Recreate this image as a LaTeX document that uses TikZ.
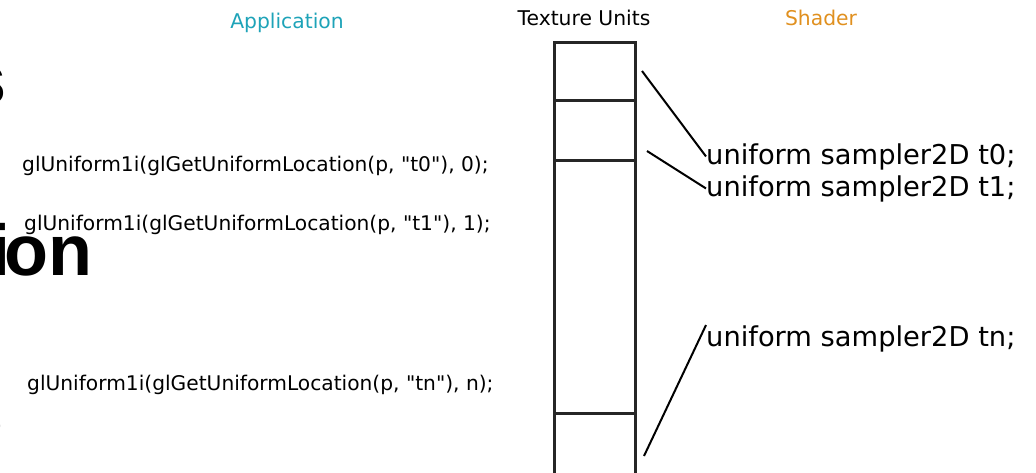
\documentclass[tikz,border=0pt]{standalone}
\usepackage{fontspec}
\setmainfont{DejaVu Sans}[Ligatures=TeXOff]
\newfontfamily\bigbold{Liberation Sans}
\definecolor{appcol}{HTML}{1EA3B8}
\definecolor{shadercol}{HTML}{E0901F}
\begin{document}
\begin{tikzpicture}[x=1pt,y=-1pt,
  cell/.style={draw=black!85,line width=3pt},
  glcall/.style={anchor=base west,inner sep=0pt,font=\fontsize{20.2}{24}\selectfont},
  shtext/.style={anchor=base west,inner sep=0pt,font=\fontsize{27.3}{32}\selectfont},
  head/.style={anchor=base,inner sep=0pt,font=\fontsize{20.3}{24}\selectfont},
  big/.style={anchor=base east,inner sep=0pt,font=\bigbold\bfseries\fontsize{72}{80}\selectfont},
  conn/.style={line width=2pt}]
\useasboundingbox (0,0) rectangle (1036,472);
\begin{scope}
\clip (0,0) rectangle (1036,472);
\node[big] (b1) at (7,104) {s};
\node[big] (b2) at (93,275) {i\kern-6pt{}on};
\node[big] (b3) at (4,437) {s};
% texture units
\draw[cell] (554.5,42) rectangle (635,474);
\draw[cell] (554.5,100) -- (635,100);
\draw[cell] (554.5,160) -- (635,160);
\draw[cell] (554.5,413) -- (635,413);
\end{scope}
\coordinate (u0) at (642,71);
\coordinate (u1) at (647,151);
\coordinate (un) at (644,456);
\node[head] (tu) at (584,25) {Texture Units};
\node[head,text=appcol] (app) at (287,28) {Application};
\node[head,text=shadercol] (sh) at (821,25) {Shader};
\node[glcall] (g0) at (22,171) {glUniform1i(glGetUniformLocation(p, "t0"), 0);};
\node[glcall] (g1) at (24,230) {glUniform1i(glGetUniformLocation(p, "t1"), 1);};
\node[glcall] (gn) at (27,390) {glUniform1i(glGetUniformLocation(p, "tn"), n);};
\node[shtext] (s0) at (706,164) {uniform sampler2D t0;};
\node[shtext] (s1) at (706,196) {uniform sampler2D t1;};
\node[shtext] (sn) at (706,346) {uniform sampler2D tn;};
\draw[conn] (u0) -- (s0.west);
\draw[conn] (u1) -- (s1.west);
\draw[conn] (un) -- (sn.north west);
\end{tikzpicture}
\end{document}
